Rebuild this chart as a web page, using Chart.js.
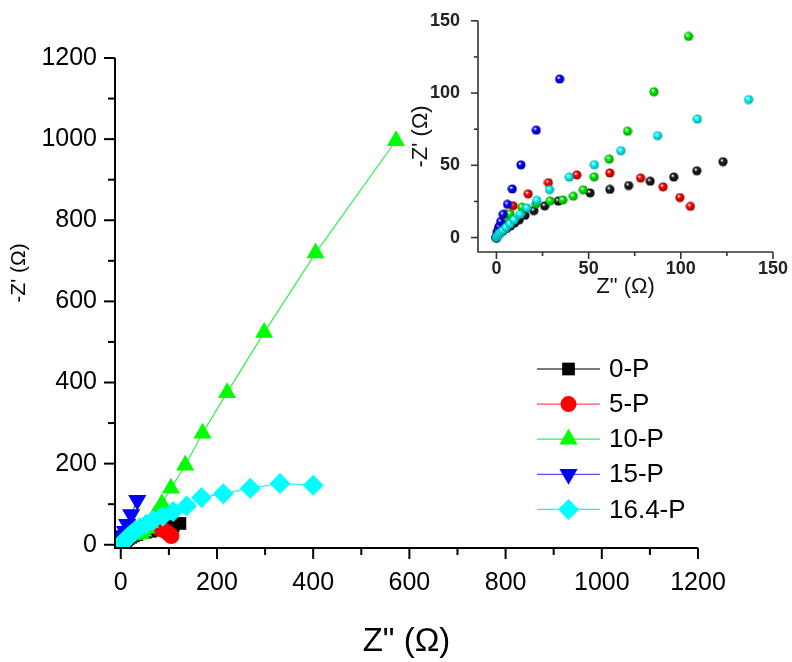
<!DOCTYPE html>
<html><head><meta charset="utf-8">
<script src="https://cdn.jsdelivr.net/npm/chart.js"></script>
<style>
html,body{margin:0;padding:0;background:#fff;}
#wrap{position:relative;width:792px;height:662px;overflow:hidden;background:#fff;}
#main{position:absolute;left:0;top:0;}
#inset{position:absolute;left:400px;top:0;}
</style></head><body>
<div id="wrap"><canvas id="main" width="792" height="662"></canvas><canvas id="inset" width="392" height="300"></canvas></div>
<script>
// ---------- data ----------
const seriesNames = ['0-P', '5-P', '10-P', '15-P', '16.4-P'];

const p0x = [0, 0.8, 2, 3.5, 5.5, 7.6, 9.8, 12.4, 15.5, 20.3, 26.2, 33.5, 50.8, 61.5, 71.7, 83.4, 96.2, 108.7, 122.9];
const p0y = [0, 1.5, 3, 4.5, 6.3, 8, 10, 12.3, 15.4, 18.6, 21.9, 25.2, 30.9, 33.3, 36, 39, 41.9, 46.2, 52.5];

const p5x = [0, 0.5, 1.4, 2.9, 5.2, 9, 17.2, 28.2, 43.6, 61.5, 78.2, 90.4, 99.5, 105.2];
const p5y = [0, 4, 7.4, 11.5, 16, 22, 30.2, 38, 43.3, 44.7, 41.2, 35.1, 27.7, 21.6];

const p10x = [0, 0.7, 1.6, 2.8, 4.5, 7.4, 13.8, 21.5, 29.1, 36, 41.7, 47.1, 53, 61.2, 71.1, 85.4, 104.2, 134, 170, 221, 298, 405, 572];
const p10y = [0, 3, 6, 9.5, 12.5, 16.4, 21, 23.4, 25.3, 26, 28.6, 33, 42, 54.3, 73.6, 100.9, 139.2, 196, 275, 375, 523, 719, 996];

const p15x = [0, 0.3, 0.8, 1.5, 2.3, 3.6, 6, 8.6, 13.3, 21.6, 34.3];
const p15y = [0, 2, 4.5, 7.5, 11, 16, 23, 33.6, 50.3, 74.3, 109.7];

const p164x = [0, 0.5, 1.2, 2.2, 3.5, 5.2, 7.3, 9.5, 12.8, 16.5, 21.8, 28.8, 39.5, 53.1, 67.5, 87.4, 109, 136.8, 168, 213, 269, 331, 400];
const p164y = [0, 1, 2.2, 3.5, 5, 7, 9.5, 12.3, 16, 20.5, 25.7, 33.2, 41.8, 50.4, 60.1, 70.5, 82, 95.5, 116.5, 126, 139, 151, 147];

const mainMajorTicks = [0, 200, 400, 600, 800, 1000, 1200];
const mainMinorTicks = [100, 300, 500, 700, 900, 1100];
const insetMajorTicks = [0, 50, 100, 150];
const insetMinorTicks = [25, 75, 125];

const xTitle = 'Z" (\u03A9)';
const yTitle = "-Z' (\u03A9)";

// ---------- styles ----------
const seriesX = [p0x, p5x, p10x, p15x, p164x];
const seriesY = [p0y, p5y, p10y, p15y, p164y];
const markerColors = ['#000000', '#ff0000', '#00ff00', '#0000ff', '#00ffff'];
const lineColors = ['#505050', '#ff5050', '#30f050', '#5050ff', '#20f0f0'];
const markerStyles = ['rect', 'circle', 'triangle', 'triangle', 'rectRot'];
const markerRadius = [9, 8, 10.5, 10.5, 10.5];
const markerRotation = [0, 0, 0, 180, 0];
const FONT = "'Liberation Sans', Arial, Helvetica, sans-serif";
const plain = v => String(v);

function pts(i) { return seriesX[i].map((x, k) => ({x: x, y: seriesY[i][k]})); }

function drawMarker(ctx, style, r, rot, x, y, color) {
  ctx.save();
  ctx.fillStyle = color;
  ctx.beginPath();
  if (style === 'rect') {
    const s = r * Math.SQRT1_2;
    ctx.rect(x - s, y - s, 2 * s, 2 * s);
  } else if (style === 'circle') {
    ctx.arc(x, y, r, 0, Math.PI * 2);
  } else if (style === 'triangle') {
    let a = rot * Math.PI / 180;
    for (let k = 0; k < 3; k++) {
      const px = x + Math.sin(a) * r, py = y - Math.cos(a) * r;
      if (k === 0) ctx.moveTo(px, py); else ctx.lineTo(px, py);
      a += 2 * Math.PI / 3;
    }
  } else if (style === 'rectRot') {
    ctx.moveTo(x - r, y); ctx.lineTo(x, y - r); ctx.lineTo(x + r, y); ctx.lineTo(x, y + r);
  }
  ctx.closePath();
  ctx.fill();
  ctx.restore();
}

// axes + tick marks drawn through the chart's own scales
const axesPlugin = {
  id: 'axesTicks',
  afterDatasetsDraw(chart, args, o) {
    const ctx = chart.ctx, a = chart.chartArea;
    const xs = chart.scales.x, ys = chart.scales.y;
    ctx.save();
    ctx.strokeStyle = o.color;
    ctx.lineWidth = o.width;
    ctx.lineCap = 'butt';
    ctx.beginPath();
    ctx.moveTo(a.left, a.top);
    ctx.lineTo(a.left, a.bottom);
    ctx.lineTo(a.right, a.bottom);
    ctx.stroke();
    const tick = (vals, len) => {
      vals.forEach(v => {
        const px = xs.getPixelForValue(v);
        ctx.beginPath(); ctx.moveTo(px, a.bottom); ctx.lineTo(px, a.bottom + len); ctx.stroke();
        const py = ys.getPixelForValue(v);
        ctx.beginPath(); ctx.moveTo(a.left - len, py); ctx.lineTo(a.left, py); ctx.stroke();
      });
    };
    tick(o.major, o.majorLen);
    tick(o.minor, o.minorLen);
    ctx.restore();
  }
};

// legend and rotated y title on the main chart
const legendPlugin = {
  id: 'legendBox',
  afterDraw(chart, args, o) {
    const ctx = chart.ctx;
    ctx.save();
    chart.data.datasets.forEach((ds, i) => {
      const y = o.top + i * o.step;
      ctx.strokeStyle = lineColors[i];
      ctx.lineWidth = 1.3;
      ctx.beginPath(); ctx.moveTo(o.x0, y); ctx.lineTo(o.x1, y); ctx.stroke();
      drawMarker(ctx, markerStyles[i], markerRadius[i], markerRotation[i], (o.x0 + o.x1) / 2, y, markerColors[i]);
      ctx.fillStyle = '#000';
      ctx.font = o.fontSize + 'px ' + FONT;
      ctx.textAlign = 'left';
      ctx.textBaseline = 'middle';
      ctx.fillText(ds.label, o.textX, y + 1);
    });
    // y axis title
    ctx.translate(o.yTitleX, o.yTitleY);
    ctx.rotate(-Math.PI / 2);
    ctx.font = o.yTitleSize + 'px ' + FONT;
    ctx.textAlign = 'center';
    ctx.textBaseline = 'middle';
    ctx.fillStyle = '#000';
    ctx.fillText(o.yTitle, 0, 0);
    ctx.restore();
  }
};

const mainChart = new Chart(document.getElementById('main'), {
  type: 'scatter',
  data: {
    datasets: seriesNames.map((name, i) => ({
      label: name,
      data: pts(i),
      showLine: true,
      borderColor: lineColors[i],
      borderWidth: 1.2,
      backgroundColor: markerColors[i],
      pointBackgroundColor: markerColors[i],
      pointBorderWidth: 0,
      pointStyle: markerStyles[i],
      pointRadius: markerRadius[i],
      pointRotation: markerRotation[i],
      order: seriesNames.length - 1 - i
    }))
  },
  options: {
    responsive: false,
    animation: false,
    devicePixelRatio: 1,
    layout: {padding: {left: 0, top: 58, right: 94, bottom: 0}},
    plugins: {
      legend: {display: false},
      tooltip: {enabled: false},
      axesTicks: {major: mainMajorTicks, minor: mainMinorTicks, majorLen: 11, minorLen: 7, color: '#000', width: 2},
      legendBox: {top: 369, step: 35.1, x0: 537, x1: 600, textX: 609, fontSize: 26,
                  yTitle: yTitle, yTitleX: 19, yTitleY: 273, yTitleSize: 21}
    },
    scales: {
      x: {
        type: 'linear', min: -12, max: 1200,
        afterFit(s) { s.height = 114; },
        afterBuildTicks(s) { s.ticks = mainMajorTicks.map(v => ({value: v})); },
        grid: {display: false}, border: {display: false},
        ticks: {font: {family: FONT, size: 25}, color: '#000', padding: 12, maxRotation: 0, callback: plain},
        title: {display: true, text: xTitle, font: {family: FONT, size: 33}, color: '#000', padding: {top: 0, bottom: 0}}
      },
      y: {
        type: 'linear', min: -8, max: 1200,
        afterFit(s) { s.width = 115; },
        afterBuildTicks(s) { s.ticks = mainMajorTicks.map(v => ({value: v})); },
        grid: {display: false}, border: {display: false},
        ticks: {font: {family: FONT, size: 25}, color: '#000', padding: 10, callback: plain}
      }
    }
  },
  plugins: [axesPlugin, legendPlugin]
});

// ---------- inset ----------
function shade(hex, f) {
  const n = parseInt(hex.slice(1), 16);
  const r = Math.round(((n >> 16) & 255) * f), g = Math.round(((n >> 8) & 255) * f), b = Math.round((n & 255) * f);
  return 'rgb(' + r + ',' + g + ',' + b + ')';
}
function sphere(color) {
  const c = document.createElement('canvas');
  c.width = 10; c.height = 10;
  const g = c.getContext('2d');
  const grd = g.createRadialGradient(3.6, 3.4, 0.3, 5, 5, 4.8);
  grd.addColorStop(0, 'rgba(255,255,255,0.95)');
  grd.addColorStop(0.35, color);
  grd.addColorStop(1, shade(color, 0.6));
  g.fillStyle = grd;
  g.beginPath(); g.arc(5, 5, 4.6, 0, Math.PI * 2); g.fill();
  return c;
}
const sphereColors = ['#1a1a1a', '#ff0000', '#00f000', '#0000ff', '#00ffff'];

const insetChart = new Chart(document.getElementById('inset'), {
  type: 'scatter',
  data: {
    datasets: seriesNames.map((name, i) => ({
      label: name,
      data: pts(i),
      showLine: false,
      pointStyle: sphere(sphereColors[i]),
      pointRadius: 5,
      order: seriesNames.length - 1 - i
    }))
  },
  options: {
    responsive: false,
    animation: false,
    devicePixelRatio: 1,
    layout: {padding: {left: 0, top: 15, right: 19, bottom: 0}},
    plugins: {
      legend: {display: false},
      tooltip: {enabled: false},
      axesTicks: {major: insetMajorTicks, minor: insetMinorTicks, majorLen: 7, minorLen: 4, color: '#333', width: 1.6}
    },
    scales: {
      x: {
        type: 'linear', min: -10, max: 150,
        afterFit(s) { s.height = 48; },
        afterBuildTicks(s) { s.ticks = insetMajorTicks.map(v => ({value: v})); },
        grid: {display: false}, border: {display: false},
        ticks: {font: {family: FONT, size: 18, weight: 'bold'}, color: '#222', padding: -2, maxRotation: 0, callback: plain},
        title: {display: true, text: xTitle, font: {family: FONT, size: 22}, color: '#111', padding: {top: 0, bottom: 0}}
      },
      y: {
        type: 'linear', min: -10, max: 150,
        afterFit(s) { s.width = 78; },
        afterBuildTicks(s) { s.ticks = insetMajorTicks.map(v => ({value: v})); },
        grid: {display: false}, border: {display: false},
        ticks: {font: {family: FONT, size: 18, weight: 'bold'}, color: '#222', padding: 10, callback: plain},
        title: {display: true, text: yTitle, font: {family: FONT, size: 22}, color: '#111', padding: {top: 8, bottom: 0}}
      }
    }
  },
  plugins: [axesPlugin]
});
</script>
</body></html>
